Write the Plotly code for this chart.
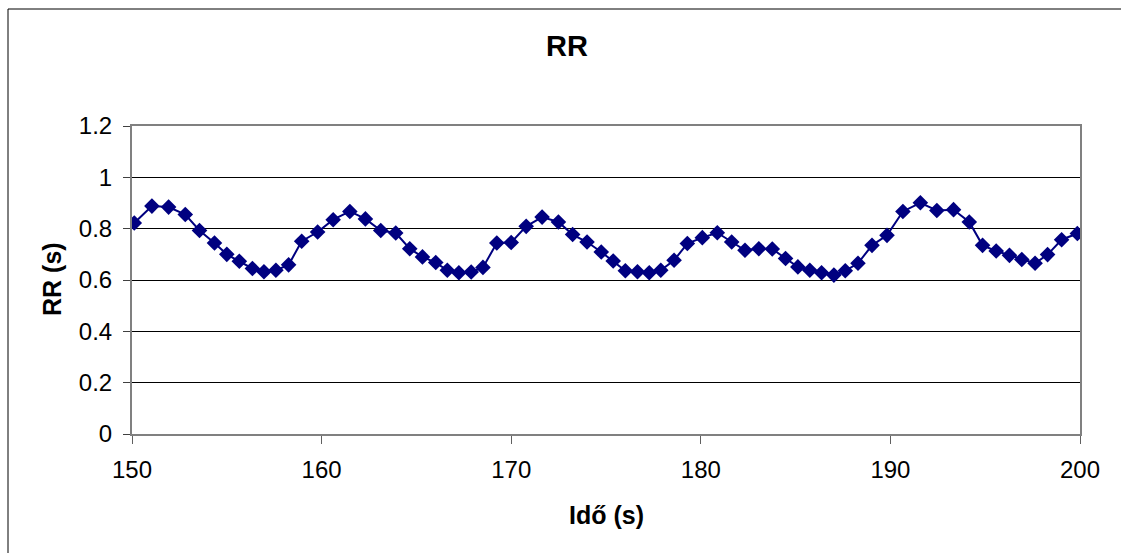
import plotly.graph_objects as go

# Data
time_s = [149.4, 150.12, 151.05, 151.93, 152.81, 153.56, 154.35, 155.0, 155.66, 156.35, 156.96,
          157.59, 158.26, 158.95, 159.79, 160.61, 161.49, 162.31, 163.12, 163.91, 164.65,
          165.32, 166.02, 166.63, 167.24, 167.89, 168.51, 169.24, 170.0, 170.79, 171.63,
          172.49, 173.24, 174.0, 174.75, 175.38, 176.02, 176.66, 177.28, 177.89, 178.59,
          179.29, 180.08, 180.87, 181.63, 182.33, 183.06, 183.77, 184.47, 185.12, 185.75,
          186.37, 187.02, 187.62, 188.29, 189.03, 189.82, 190.66, 191.58, 192.45, 193.33,
          194.16, 194.86, 195.58, 196.28, 196.93, 197.63, 198.29, 199.03, 199.86]
rr_s = [0.745, 0.822, 0.888, 0.884, 0.855, 0.793, 0.744, 0.700, 0.673, 0.645, 0.632,
        0.638, 0.659, 0.751, 0.787, 0.835, 0.867, 0.838, 0.793, 0.783, 0.722,
        0.690, 0.668, 0.638, 0.628, 0.631, 0.649, 0.744, 0.746, 0.809, 0.845,
        0.826, 0.777, 0.748, 0.709, 0.674, 0.636, 0.632, 0.628, 0.638, 0.677,
        0.742, 0.765, 0.784, 0.748, 0.716, 0.722, 0.721, 0.684, 0.651, 0.638,
        0.628, 0.619, 0.636, 0.665, 0.735, 0.774, 0.867, 0.901, 0.871, 0.874,
        0.826, 0.735, 0.713, 0.696, 0.680, 0.665, 0.699, 0.757, 0.781]

x_ticks = [150, 160, 170, 180, 190, 200]
y_ticks = [0, 0.2, 0.4, 0.6, 0.8, 1, 1.2]
y_tick_labels = ["0", "0.2", "0.4", "0.6", "0.8", "1", "1.2"]

W, H = 1121, 553
ML, MR, MT, MB = 132, 41, 126, 119
pw = W - ML - MR
ph = H - MT - MB

fig = go.Figure()
fig.add_trace(go.Scatter(
    x=time_s, y=rr_s, mode="lines+markers",
    line=dict(color="#000080", width=2),
    marker=dict(symbol="diamond", size=12, color="#000080"),
    cliponaxis=True, showlegend=False,
))

font_family = "Liberation Sans, Arial, sans-serif"

fig.update_layout(
    width=W, height=H,
    margin=dict(l=ML, r=MR, t=MT, b=MB, pad=0),
    paper_bgcolor="white", plot_bgcolor="white",
    font=dict(family=font_family, size=24, color="black"),
    xaxis=dict(
        range=[150, 200], tickvals=x_ticks,
        showgrid=False, zeroline=False,
        showline=True, linecolor="#808080", linewidth=2, mirror=True,
        ticks="outside", ticklen=8, tickcolor="#606060", tickwidth=1,
        tickfont=dict(size=24), ticklabelstandoff=5,
    ),
    yaxis=dict(
        range=[0, 1.2], tickvals=y_ticks, ticktext=y_tick_labels,
        showgrid=True, gridcolor="black", gridwidth=1,
        zeroline=False,
        showline=True, linecolor="#808080", linewidth=2, mirror=True,
        ticks="outside", ticklen=7, tickcolor="#404040", tickwidth=1,
        tickfont=dict(size=24), ticklabelstandoff=6,
    ),
    title=dict(text="<b>RR</b>", x=567 / W, xanchor="center",
               y=1 - 46 / H, yanchor="middle", font=dict(size=29)),
    annotations=[
        dict(text="<b>Idő (s)</b>", xref="paper", yref="paper",
             x=0.5, y=(434 - 515) / ph, xanchor="center", yanchor="middle",
             showarrow=False, font=dict(size=25)),
        dict(text="<b>RR (s)</b>", xref="paper", yref="paper",
             x=(52 - ML) / pw, y=(434 - 279) / ph, xanchor="center", yanchor="middle",
             textangle=-90, showarrow=False, font=dict(size=25)),
    ],
    shapes=[
        dict(type="rect", xref="paper", yref="paper",
             x0=(8 - ML) / pw, x1=(1130 - ML) / pw,
             y0=(434 - 570) / ph, y1=(434 - 9) / ph,
             line=dict(color="black", width=1), layer="below"),
    ],
)

fig.write_html("out.html")
